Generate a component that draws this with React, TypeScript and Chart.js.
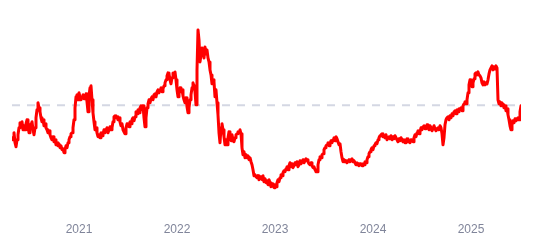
import React, { useEffect, useRef } from "react";
import { Chart, registerables } from "chart.js";

Chart.register(...registerables);

// Sampling: one observation every ~3.73 days, first one late April 2020
const startYear = 2020.3163;
const stepYears = 1 / 98;

// Series values
const values: number[] = [
  62, 60, 67, 57, 53, 60, 65, 72, 77, 73, 78, 70, 74, 70, 76, 80, 73, 67, 72, 76, 78, 70, 65, 72, 82, 90, 97, 92, 88, 82,
  78, 80, 74, 76, 72, 70, 67, 69, 65, 62, 60, 63, 58, 60, 55, 57, 54, 56, 52, 54, 50, 51, 47, 50, 54, 52, 57, 60, 63, 66,
  67, 72, 80, 92, 103, 105, 100, 107, 103, 100, 103, 105, 101, 102, 106, 98, 88, 104, 112, 114, 100, 87, 78, 70, 72, 67, 63, 65, 62, 67,
  64, 66, 70, 67, 69, 72, 67, 70, 73, 70, 72, 78, 83, 84, 82, 83, 80, 82, 78, 74, 76, 70, 68, 66, 72, 76, 74, 73, 78, 76,
  80, 82, 79, 83, 88, 86, 90, 87, 92, 94, 90, 94, 82, 73, 82, 92, 96, 100, 97, 101, 103, 100, 105, 106, 103, 108, 110, 107, 110, 112,
  108, 111, 114, 117, 120, 124, 127, 126, 120, 116, 122, 127, 125, 128, 120, 110, 103, 107, 112, 108, 110, 104, 100, 97, 102, 93, 87, 92, 100, 105,
  112, 117, 114, 108, 95, 130, 170, 160, 138, 145, 152, 148, 142, 153, 146, 150, 142, 138, 130, 125, 116, 120, 118, 103, 110, 97, 85, 67, 57, 72,
  76, 70, 63, 55, 60, 55, 62, 68, 63, 59, 65, 60, 58, 62, 65, 66, 68, 67, 70, 66, 52, 45, 48, 42, 45, 42, 44, 40, 42, 38,
  35, 30, 24, 25, 23, 22, 24, 20, 23, 22, 20, 24, 18, 21, 17, 19, 15, 20, 17, 13, 16, 14, 12, 15, 13, 17, 20, 18, 22, 25,
  24, 27, 29, 28, 31, 33, 30, 34, 37, 33, 36, 32, 34, 37, 35, 38, 33, 35, 39, 36, 38, 40, 37, 39, 41, 40, 38, 36, 35, 37,
  34, 32, 33, 30, 28, 28, 35, 40, 43, 42, 45, 46, 50, 52, 54, 55, 57, 54, 56, 59, 57, 60, 62, 59, 63, 61, 58, 55, 56, 48,
  42, 38, 40, 38, 39, 37, 39, 40, 38, 40, 41, 38, 39, 37, 35, 37, 36, 34, 36, 35, 34, 36, 35, 38, 37, 40, 43, 46, 48, 50,
  52, 50, 54, 55, 57, 56, 60, 62, 64, 65, 66, 63, 64, 62, 65, 60, 62, 63, 61, 64, 60, 63, 61, 64, 62, 60, 58, 61, 59, 62,
  60, 58, 60, 57, 59, 61, 58, 59, 57, 60, 59, 58, 62, 65, 63, 67, 69, 66, 68, 72, 70, 73, 74, 71, 72, 75, 73, 70, 74, 72,
  69, 71, 74, 71, 69, 71, 72, 70, 74, 72, 66, 55, 62, 75, 80, 82, 83, 80, 84, 82, 86, 84, 88, 89, 86, 90, 88, 91, 90, 92,
  89, 94, 96, 98, 96, 100, 107, 115, 120, 116, 113, 117, 121, 126, 127, 125, 128, 125, 124, 122, 117, 115, 118, 115, 117, 116, 120, 126, 130, 132,
  134, 130, 133, 131, 134, 132, 100, 96, 98, 94, 97, 95, 92, 94, 89, 91, 85, 80, 74, 70, 75, 79, 77, 81, 79, 80, 82, 80, 88, 94,
];

// Reference (average) level shown as a dashed line
const referenceLevel = 94.5;

// Year tick labels
const yearTicks: number[] = [2021, 2022, 2023, 2024, 2025];

export default function App() {
  const canvasRef = useRef<HTMLCanvasElement | null>(null);

  useEffect(() => {
    document.body.style.margin = "0";
    const canvas = canvasRef.current;
    if (!canvas) return;
    const points = values.map((v, i) => ({ x: startYear + i * stepYears, y: v }));
    const xMin = points[0].x;
    const xMax = points[points.length - 1].x;

    const chart = new Chart(canvas, {
      type: "line",
      data: {
        datasets: [
          {
            data: points,
            borderColor: "#ff0000",
            borderWidth: 3,
            borderJoinStyle: "round",
            borderCapStyle: "round",
            pointRadius: 0,
            tension: 0,
            fill: false,
            order: 0,
          },
          {
            data: [
              { x: xMin, y: referenceLevel },
              { x: xMax, y: referenceLevel },
            ],
            borderColor: "#d4d7e3",
            borderWidth: 2,
            borderDash: [8, 7],
            pointRadius: 0,
            fill: false,
            order: 1,
          },
        ],
      },
      options: {
        responsive: false,
        animation: false,
        layout: { padding: { left: 12, right: 18, top: 10, bottom: 11 } },
        plugins: { legend: { display: false }, tooltip: { enabled: false } },
        scales: {
          x: {
            type: "linear",
            min: xMin,
            max: xMax,
            grid: { display: false, drawTicks: false },
            border: { display: false },
            afterBuildTicks: (scale: any) => {
              scale.ticks = yearTicks.map((v) => ({ value: v }));
            },
            ticks: {
              padding: 3,
              maxRotation: 0,
              autoSkip: false,
              color: "#80859a",
              font: { family: "'Liberation Sans', Arial, sans-serif", size: 12 },
              callback: (v: any) => String(v),
            },
          },
          y: {
            display: false,
            min: -20,
            max: 190,
          },
        },
      },
    });
    return () => chart.destroy();
  }, []);

  return (
    <div style={{ width: 539, height: 251 }}>
      <canvas ref={canvasRef} width={539} height={251} />
    </div>
  );
}
